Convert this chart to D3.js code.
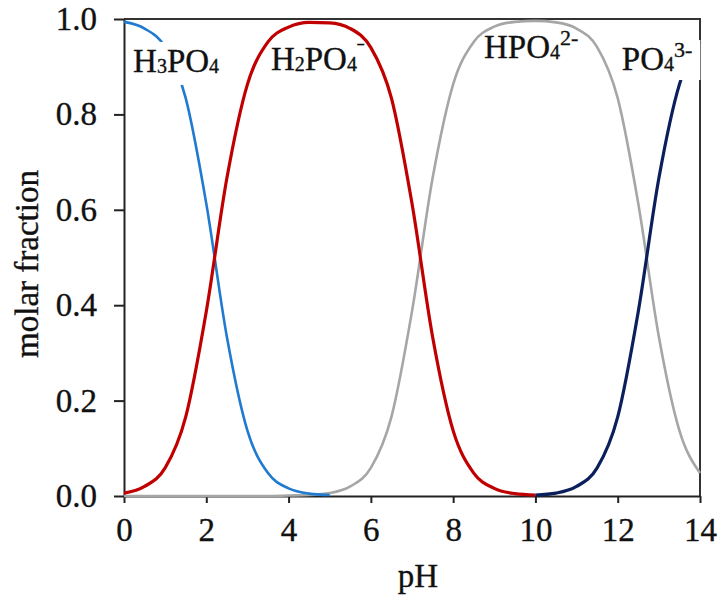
<!DOCTYPE html>
<html>
<head>
<meta charset="utf-8">
<script src="https://cdn.jsdelivr.net/npm/d3@7"></script>
<style>
  body { margin: 0; background: #fff; }
  text { font-family: "Liberation Serif", "Times New Roman", serif; fill: #111; stroke: #111; stroke-width: 0.35px; }
</style>
</head>
<body>
<div id="chart"></div>
<script>
// pH values (step 0.5) and molar fractions, null = not drawn
var pH = [0, 0.5, 1, 1.5, 2, 2.5, 3, 3.5, 4, 4.5, 5, 5.5, 6, 6.5, 7, 7.5, 8, 8.5, 9, 9.5, 10, 10.5, 11, 11.5, 12, 12.5, 13, 13.5, 14];

var h3po4 = [0.994, 0.980, 0.941, 0.834, 0.613, 0.334, 0.137, 0.048, 0.016, 0.005, 0.002,
             null, null, null, null, null, null, null, null, null, null, null, null, null, null, null, null, null, null];
var h2po4 = [0.006, 0.020, 0.059, 0.166, 0.387, 0.666, 0.863, 0.952, 0.983, 0.993, 0.992, 0.980, 0.940, 0.834,
             0.613, 0.334, 0.137, 0.048, 0.016, 0.005, 0.002, null, null, null, null, null, null, null, null];
var hpo4  = [0, 0, 0, 0, 0, 0, 0, 0, 0.001, 0.002, 0.006, 0.020, 0.059, 0.166, 0.387, 0.666, 0.863, 0.952,
             0.984, 0.994, 0.996, 0.993, 0.980, 0.941, 0.834, 0.613, 0.334, 0.137, 0.048];
var po4   = [null, null, null, null, null, null, null, null, null, null, null, null, null, null, null, null, null, null,
             null, null, 0.002, 0.006, 0.020, 0.059, 0.166, 0.387, 0.666, 0.863, 0.952];

var xTicks = [0, 2, 4, 6, 8, 10, 12, 14];
var yTicks = [0, 0.2, 0.4, 0.6, 0.8, 1.0];

var series = [
  {values: hpo4,  color: "#a6a6a6", width: 2.6},
  {values: h3po4, color: "#1f7ad0", width: 2.6},
  {values: h2po4, color: "#c00000", width: 3.2},
  {values: po4,   color: "#0a1f5c", width: 3.2}
];

var serif = '"Liberation Serif", "Times New Roman", serif';

// label pieces: 0 = normal, 1 = subscript, 2 = superscript
// pad = white box above / below baseline and extra to the right (null = no box)
var labels = [
  {parts: [["H",0],["3",1],["PO",0],["4",1]],              x: 0.22, y: 0.889, pad: [30, 13, 0]},
  {parts: [["H",0],["2",1],["PO",0],["4",1],["\u02C9",2]], x: 3.57, y: 0.893, pad: null},
  {parts: [["HPO",0],["4",1],["2-",2]],                    x: 8.75, y: 0.918, pad: null},
  {parts: [["PO",0],["4",1],["3-",2]],                     x: 12.1, y: 0.893, pad: [30, 10, 8]}
];

var margin = {top: 19, right: 19, bottom: 103, left: 124},
    width = 719 - margin.left - margin.right,
    height = 599 - margin.top - margin.bottom;

var svg = d3.select("#chart")
  .append("svg")
    .attr("width", 719)
    .attr("height", 599)
  .append("g")
    .attr("transform", "translate(" + margin.left + "," + margin.top + ")");

var x = d3.scaleLinear().domain([0, 14]).range([0, width]);
var y = d3.scaleLinear().domain([0, 1]).range([height, 0]);

// frame (top and right)
svg.append("path")
  .attr("d", "M0,0H" + width + "V" + height)
  .attr("fill", "none")
  .attr("stroke", "#333")
  .attr("stroke-width", 2);

var xAxis = svg.append("g")
  .attr("transform", "translate(0," + height + ")")
  .call(d3.axisBottom(x).tickValues(xTicks).tickSize(7).tickSizeOuter(0).tickPadding(15)
        .tickFormat(d3.format("d")));

var yAxis = svg.append("g")
  .call(d3.axisLeft(y).tickValues(yTicks).tickSize(10).tickSizeOuter(0).tickPadding(17)
        .tickFormat(d3.format(".1f")));

[xAxis, yAxis].forEach(function(a) {
  a.attr("font-family", serif);
  a.selectAll("path, line").attr("stroke", "#222").attr("stroke-width", 2);
  a.selectAll("text")
    .style("font-family", serif)
    .style("font-size", "33px")
    .attr("fill", "#111");
});

// curves
var line = d3.line()
  .defined(function(d) { return d[1] != null; })
  .x(function(d) { return x(d[0]); })
  .y(function(d) { return y(d[1]); })
  .curve(d3.curveMonotoneX);

series.forEach(function(s) {
  svg.append("path")
    .datum(pH.map(function(p, i) { return [p, s.values[i]]; }))
    .attr("fill", "none")
    .attr("stroke", s.color)
    .attr("stroke-width", s.width)
    .attr("d", line);
});

// species labels
labels.forEach(function(l) {
  var g = svg.append("g");
  var bg = g.append("rect").attr("fill", "#fff");
  var t = g.append("text")
    .attr("x", x(l.x))
    .attr("y", y(l.y))
    .style("font-size", "33px");
  var shift = 0;
  l.parts.forEach(function(p) {
    var ts = t.append("tspan").text(p[0]);
    var want = 0;
    if (p[1] == 1) { ts.style("font-size", "20px"); want = 1; }
    if (p[1] == 2) { ts.style("font-size", "22px"); want = -13; }
    ts.attr("dy", want - shift);
    shift = want;
  });
  if (l.pad) {
    var b = t.node().getBBox();
    bg.attr("x", b.x).attr("y", y(l.y) - l.pad[0])
      .attr("width", b.width + l.pad[2]).attr("height", l.pad[0] + l.pad[1]);
  }
});

// axis titles
svg.append("text")
  .attr("x", width / 2 + 6)
  .attr("y", height + 91)
  .attr("text-anchor", "middle")
  .style("font-size", "33px")
  .text("pH");

svg.append("text")
  .attr("transform", "translate(" + (38 - margin.left) + "," + (264 - margin.top) + ")rotate(-90)")
  .attr("text-anchor", "middle")
  .style("font-size", "33px")
  .text("molar fraction");
</script>
</body>
</html>
